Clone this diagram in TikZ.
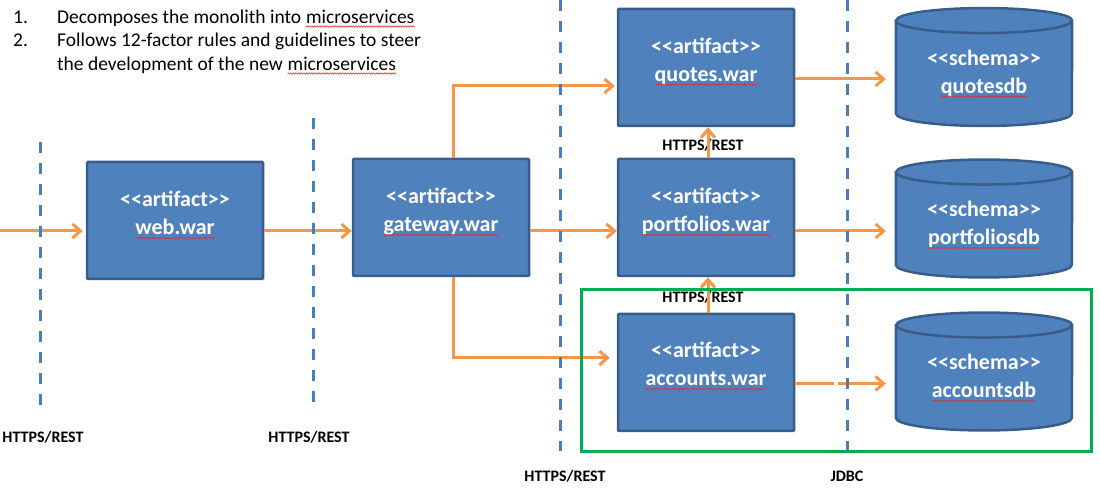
\documentclass[tikz,border=0pt]{standalone}
\usepackage{fontspec}
\setmainfont{Carlito}
\usetikzlibrary{arrows.meta,calc,decorations.pathmorphing}
\definecolor{boxfill}{HTML}{4F81BD}
\definecolor{boxline}{HTML}{385D8A}
\definecolor{arrowc}{HTML}{F79646}
\definecolor{groupc}{HTML}{00B050}
\definecolor{dashc}{HTML}{4A7EBB}
\definecolor{squigc}{HTML}{E03030}
\tikzset{
  artbox/.style={draw=boxline, fill=boxfill, line width=2.5pt, minimum width=176pt, minimum height=117pt, inner sep=0pt, rounded corners=1pt},
  dbbox/.style={minimum width=176pt, minimum height=117.5pt, inner sep=0pt},
  boxtext/.style={text=white, font=\fontsize{22}{28}\selectfont\bfseries, inner sep=0pt, anchor=base},
  flow/.style={draw=arrowc, line width=3pt, -{Straight Barb[length=8pt,width=14pt]}},
  tier/.style={draw=dashc, line width=3pt, dash pattern=on 11.5pt off 9.5pt},
  proto/.style={font=\fontsize{16}{19}\selectfont\bfseries, inner sep=0pt},
  grp/.style={draw=groupc, line width=2.8pt, inner sep=0pt},
  note/.style={font=\fontsize{19.5}{23.5}\selectfont, inner sep=0pt, anchor=base west},
  cylpath/.style={fill=boxfill, draw=boxline, line width=2.5pt},
  squig/.style={draw=squigc, line width=0.6pt, decorate, decoration={snake, amplitude=0.7pt, segment length=2.6pt}}
}
\newcommand\drawcyl[1]{%
  \path[cylpath] ($(#1.north west)+(0,-12.5)$) -- ($(#1.south west)+(0,12.5)$)
    arc[start angle=180, end angle=360, x radius=88, y radius=12.5]
    -- ($(#1.north east)+(0,-12.5)$)
    arc[start angle=0, end angle=180, x radius=88, y radius=12.5] -- cycle;
  \draw[boxline, line width=2.5pt] ($(#1.north west)+(0,-12.5)$)
    arc[start angle=180, end angle=360, x radius=88, y radius=12.5];
}
\newcommand\wavy[1]{\draw[squig] ([yshift=-3pt]#1.base west) -- ([yshift=-3pt]#1.base east);}
\newcommand\artif{<{}<artifact>{}>}
\newcommand\schem{<{}<schema>{}>}
\begin{document}
\begin{tikzpicture}[x=1pt,y=1pt]
\useasboundingbox (0,0) rectangle (1100,489);
% top notes
\node[note] (n1num) at (13,465.5) {1.};
\node[note] (n1) at (57,465.5) {Decomposes the monolith into};
\node[note, xshift=4.4pt] (n1w) at (n1.base east) {microservices};
\node[note] (n2num) at (13,442) {2.};
\node[note] (n2) at (57,442) {Follows 12-factor rules and guidelines to steer};
\node[note] (n2b) at (57,418.5) {the development of the new};
\node[note, xshift=4.4pt] (n2w) at (n2b.base east) {microservices};
\wavy{n1w}
\wavy{n2w}

% artifact boxes
\node[artbox] (web) at (175,268.5) {};
\node[boxtext] (webs) at ([yshift=13.5pt]web.center) {\artif};
\node[boxtext] (webn) at ([yshift=-14.5pt]web.center) {web.war};
\node[artbox] (gw) at (441,271.5) {};
\node[boxtext] (gws) at ([yshift=13.5pt]gw.center) {\artif};
\node[boxtext] (gwn) at ([yshift=-14.5pt]gw.center) {gateway.war};
\node[artbox] (quotes) at (706,421.5) {};
\node[boxtext] (quotess) at ([yshift=14pt]quotes.center) {\artif};
\node[boxtext] (quotesn) at ([yshift=-14pt]quotes.center) {quotes.war};
\node[artbox] (port) at (706,271.5) {};
\node[boxtext] (ports) at ([yshift=13.5pt]port.center) {\artif};
\node[boxtext] (portn) at ([yshift=-14.5pt]port.center) {portfolios.war};
\node[artbox] (acc) at (706,116.5) {};
\node[boxtext] (accs) at ([yshift=14.5pt]acc.center) {\artif};
\node[boxtext] (accn) at ([yshift=-13.5pt]acc.center) {accounts.war};
\wavy{webn}
\wavy{gwn}
\wavy{quotesn}
\wavy{portn}
\wavy{accn}

% schema cylinders
\node[dbbox] (qdb) at (984,422) {};
\node[dbbox] (pdb) at (984,270.5) {};
\node[dbbox] (adb) at (984,117.5) {};
\drawcyl{qdb}
\drawcyl{pdb}
\drawcyl{adb}
\node[boxtext] (qdbs) at ([yshift=1.5pt]qdb.center) {\schem};
\node[boxtext] (qdbn) at ([yshift=-26.5pt]qdb.center) {quotesdb};
\node[boxtext] (pdbs) at ([yshift=1.5pt]pdb.center) {\schem};
\node[boxtext] (pdbn) at ([yshift=-26.5pt]pdb.center) {portfoliosdb};
\node[boxtext] (adbs) at ([yshift=1.5pt]adb.center) {\schem};
\node[boxtext] (adbn) at ([yshift=-26.5pt]adb.center) {accountsdb};
\wavy{qdbn}
\wavy{pdbn}
\wavy{adbn}

% protocol labels
\node[proto] (l1) at (43,52) {HTTPS/REST};
\node[proto] (l2) at (309,52) {HTTPS/REST};
\node[proto] (l3) at (565,13) {HTTPS/REST};
\node[proto] (l4) at (847,13) {JDBC};
\node[proto] (l5) at (703,344) {HTTPS/REST};
\node[proto] (l6) at (703,192) {HTTPS/REST};

% connectors
\coordinate (src) at (0,258);
\coordinate (qy) at (0,403);
\coordinate (ay) at (0,131);
\coordinate (qo) at (0,410);
\coordinate (ao) at (0,105.5);
\draw[flow, shorten >=3pt] (src) -- (web.west |- src);
\draw[flow] (web.east |- src) -- (gw.west |- src);
\draw[flow, shorten >=2pt] ([xshift=12pt]gw.north) |- (quotes.west |- qy);
\draw[flow] (gw.east |- src) -- (port.west |- src);
\draw[flow, shorten >=7pt] ([xshift=12pt]gw.south) |- (acc.west |- ay);
\draw[flow, shorten >=10pt] (quotes.east |- qo) -- (qdb.west |- qo);
\draw[flow, shorten >=10pt] (port.east |- src) -- (pdb.west |- src);
\draw[flow, shorten >=10pt, dash pattern=on 39pt off 4pt on 200pt] (acc.east |- ao) -- (adb.west |- ao);
\draw[flow] ([xshift=2pt]port.north) -- ([xshift=2pt]quotes.south);
\draw[flow] ([xshift=2pt]acc.north) -- ([xshift=2pt]port.south);

% group frame
\node[grp, minimum width=510pt, minimum height=162pt, anchor=south west] (group) at (580,36) {};

% tier separators
\coordinate (t1a) at (40,347); \coordinate (t1b) at (40,84);
\coordinate (t2a) at (313,371); \coordinate (t2b) at (313,86);
\coordinate (t3a) at (560,489); \coordinate (t3b) at (560,38);
\coordinate (t4a) at (847,489); \coordinate (t4b) at (847,34);
\draw[tier] (t1a) -- (t1b);
\draw[tier] (t2a) -- (t2b);
\draw[tier] (t3a) -- (t3b);
\draw[tier] (t4a) -- (t4b);
\end{tikzpicture}
\end{document}
